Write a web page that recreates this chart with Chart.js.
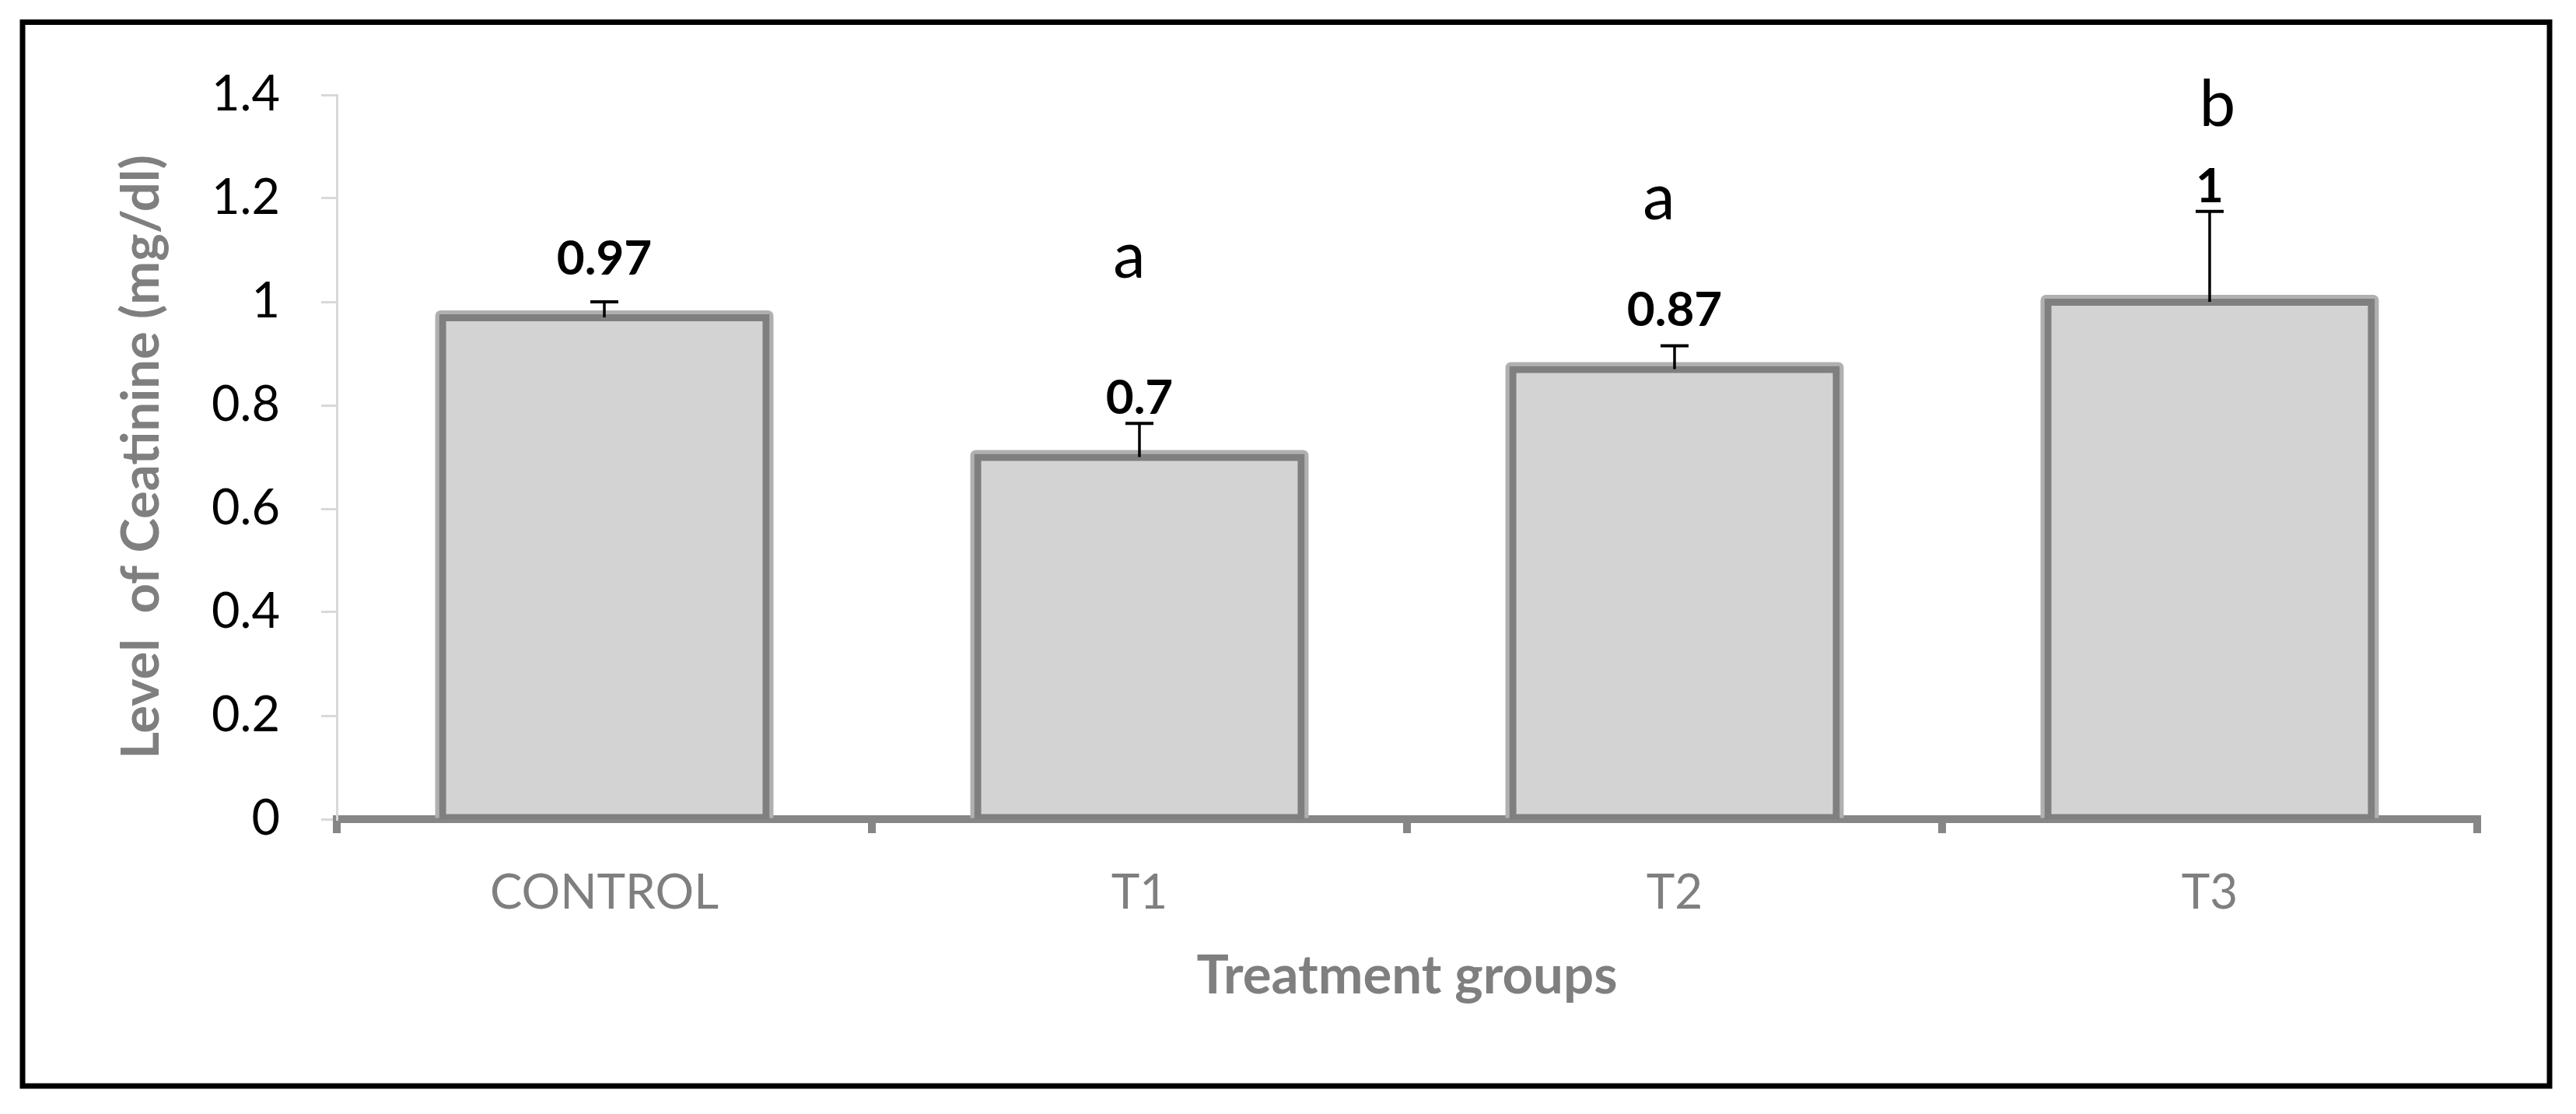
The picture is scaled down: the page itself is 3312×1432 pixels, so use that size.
<!DOCTYPE html>
<html>
<head>
<meta charset="utf-8">
<script src="https://cdn.jsdelivr.net/npm/chart.js@4.4.1/dist/chart.umd.min.js"></script>
<style>
html,body{margin:0;padding:0;background:#ffffff;}
#wrap{position:relative;width:3312px;height:1432px;}
canvas{display:block;}
</style>
</head>
<body>
<div id="wrap"><canvas id="c" width="3312" height="1432"></canvas></div>
<script>
// ---- data ----
const categories = ['CONTROL', 'T1', 'T2', 'T3'];
const meanValues = [0.97, 0.7, 0.87, 1];
const errorValues = [0.03, 0.065, 0.045, 0.175];
const valueLabels = ['0.97', '0.7', '0.87', '1'];
const sigLetters = ['', 'a', 'a', 'b'];
const yTickValues = [0, 0.2, 0.4, 0.6, 0.8, 1, 1.2, 1.4];
const yTickLabels = ['0', '0.2', '0.4', '0.6', '0.8', '1', '1.2', '1.4'];

const FONT = 'Lato';

const decorPlugin = {
  id: 'decor',
  beforeDraw(chart) {
    const ctx = chart.ctx;
    ctx.save();
    ctx.fillStyle = '#ffffff';
    ctx.fillRect(0, 0, chart.width, chart.height);
    ctx.strokeStyle = '#000000';
    ctx.lineWidth = 7;
    ctx.strokeRect(29, 28.5, 3249, 1367.5);
    ctx.restore();
  },
  beforeDatasetsDraw(chart) {
    const ctx = chart.ctx;
    const meta = chart.getDatasetMeta(0);
    ctx.save();
    ctx.fillStyle = '#b0b0b0';
    meta.data.forEach(bar => {
      const p = bar.getProps(['x', 'y', 'base', 'width'], true);
      const inf = 9;
      const l = p.x - p.width / 2 - inf, r = p.x + p.width / 2 + inf;
      const t = Math.min(p.y, p.base) - inf, b = Math.max(p.y, p.base);
      ctx.beginPath();
      if (ctx.roundRect) ctx.roundRect(l, t, r - l, b - t, [7, 7, 0, 0]);
      else ctx.rect(l, t, r - l, b - t);
      ctx.fill();
    });
    ctx.restore();
  },
  afterDatasetsDraw(chart, args, opts) {
    const ctx = chart.ctx;
    const y = chart.scales.y;
    const meta = chart.getDatasetMeta(0);
    ctx.save();
    meta.data.forEach((bar, i) => {
      const p = bar.getProps(['x', 'y'], true);
      const topPx = y.getPixelForValue(meanValues[i]);
      const errPx = y.getPixelForValue(meanValues[i] + errorValues[i]);
      // error bar (upper only)
      ctx.strokeStyle = '#000000';
      ctx.lineWidth = 3.5;
      ctx.beginPath();
      ctx.moveTo(p.x, topPx);
      ctx.lineTo(p.x, errPx);
      ctx.stroke();
      ctx.lineWidth = 4;
      ctx.beginPath();
      ctx.moveTo(p.x - 18, errPx);
      ctx.lineTo(p.x + 18, errPx);
      ctx.stroke();
      // value label
      ctx.fillStyle = '#000000';
      ctx.font = 'bold 62px ' + FONT;
      ctx.textAlign = 'center';
      ctx.textBaseline = 'alphabetic';
      const ly = Math.min(topPx - 55, errPx - 12);
      ctx.fillText(valueLabels[i], p.x, ly);
      // significance letters
      if (sigLetters[i]) {
        ctx.font = '83px ' + FONT;
        ctx.fillText(sigLetters[i], p.x + opts.letterDx[i], y.getPixelForValue(opts.letterY[i]));
      }
    });
    ctx.restore();
  }
};

new Chart(document.getElementById('c'), {
  type: 'bar',
  data: {
    labels: categories,
    datasets: [{
      data: meanValues,
      backgroundColor: '#d3d3d3',
      borderColor: '#7f7f7f',
      borderWidth: 9,
      borderSkipped: false,
      inflateAmount: 4,
      barPercentage: 0.606,
      categoryPercentage: 1
    }]
  },
  options: {
    responsive: false,
    devicePixelRatio: 1,
    animation: false,
    layout: { padding: { top: 122, right: 127, left: 0, bottom: 0 } },
    plugins: {
      legend: { display: false },
      tooltip: { enabled: false },
      decor: {
        letterY: [null, 1.047, 1.159, 1.34],
        letterDx: [0, -13, -20, 10]
      }
    },
    scales: {
      x: {
        z: 1,
        border: { color: '#868686', width: 10 },
        grid: { offset: true, drawOnChartArea: false, drawTicks: true, tickLength: 18, color: '#868686', lineWidth: 10 },
        ticks: { color: '#7f7f7f', font: { family: FONT, size: 62 }, padding: 40 },
        title: { display: true, text: 'Treatment groups', color: '#7f7f7f', font: { family: FONT, size: 69, weight: 'bold' }, padding: { top: 0, bottom: 136 } },
        afterFit(scale) { scale.height = 379; }
      },
      y: {
        min: 0,
        max: 1.4,
        border: { color: '#d9d9d9', width: 3 },
        grid: { drawOnChartArea: false, drawTicks: true, tickLength: 20, color: '#d9d9d9', lineWidth: 3 },
        ticks: {
          color: '#000000',
          font: { family: FONT, size: 63 },
          padding: 53,
          callback(value, index) { return yTickLabels[index]; }
        },
        afterBuildTicks(scale) { scale.ticks = yTickValues.map(v => ({ value: v })); },
        title: { display: true, text: 'Level  of Ceatinine (mg/dl)', color: '#7f7f7f', font: { family: FONT, size: 67, weight: 'bold' }, padding: { top: 142, bottom: 0 } },
        afterFit(scale) { scale.width = 433; }
      }
    }
  },
  plugins: [decorPlugin]
});
</script>
</body>
</html>
